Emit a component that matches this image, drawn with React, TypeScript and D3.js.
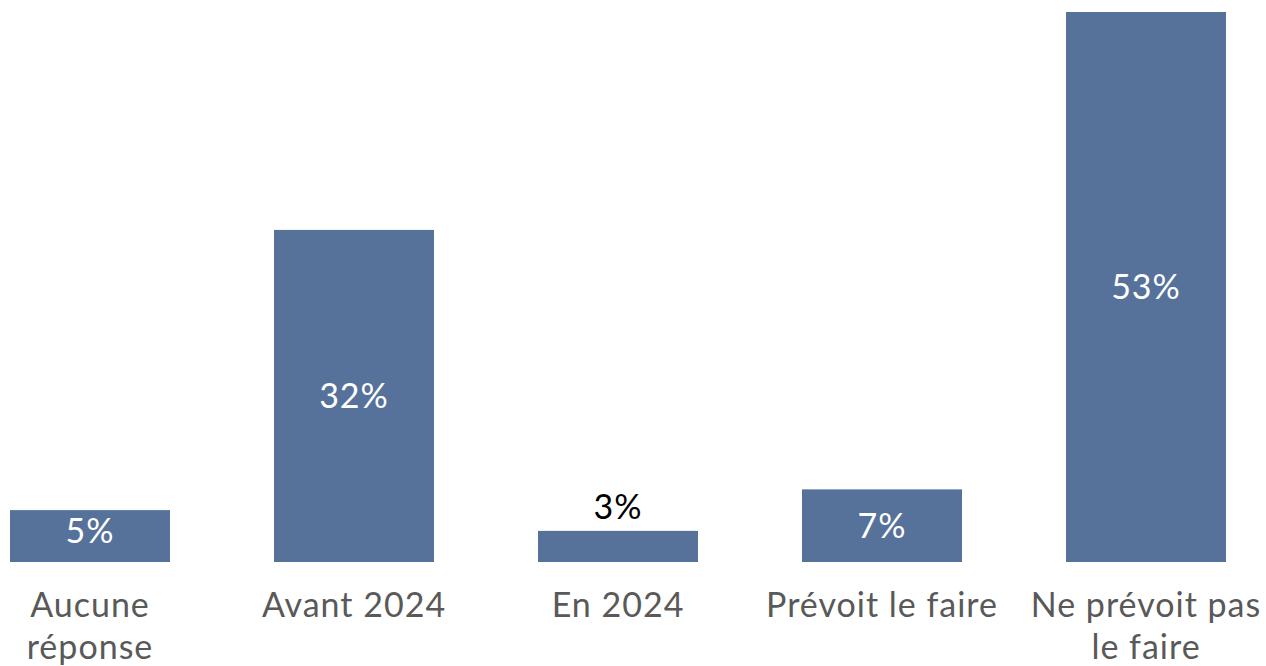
import React from "react";
import * as d3 from "d3";

const categories: string[][] = [
  ["Aucune", "réponse"],
  ["Avant 2024"],
  ["En 2024"],
  ["Prévoit le faire"],
  ["Ne prévoit pas", "le faire"],
];
const values: number[] = [5, 32, 3, 7, 53];

const W = 1266;
const H = 666;

export default function App() {
  const xb = d3
    .scaleBand<number>()
    .domain(values.map((_, i) => i))
    .range([10 - 52, 10 - 52 + 264 * 5])
    .paddingInner(104 / 264)
    .paddingOuter(52 / 264);
  const y = d3.scaleLinear().domain([0, 53]).range([562, 12]);
  const font = "Lato, 'Open Sans', sans-serif";
  return (
    <svg width={W} height={H} style={{ position: "absolute", left: 0, top: 0 }}>
      {values.map((v, i) => {
        const bx = xb(i)!;
        const bw = xb.bandwidth();
        const top = y(v);
        const h = y(0) - top;
        const inside = h > 40;
        const cx = bx + bw / 2;
        const labelY = inside ? Math.min(top + h / 2, 531) : top - 12;
        return (
          <g key={i}>
            <rect x={bx} y={top} width={bw} height={h} fill="#56729B" />
            <text
              x={cx}
              y={labelY}
              dy={inside ? "0.36em" : "0"}
              textAnchor="middle"
              fontFamily={font}
              fontSize={34}
              letterSpacing={1}
              fill={inside ? "#ffffff" : "#000000"}
            >
              {v}%
            </text>
            {categories[i].map((line, j) => (
              <text
                key={j}
                x={cx}
                y={617 + j * 42}
                textAnchor="middle"
                fontFamily={font}
                fontSize={34}
                letterSpacing={1}
                fill="#595959"
              >
                {line}
              </text>
            ))}
          </g>
        );
      })}
    </svg>
  );
}
